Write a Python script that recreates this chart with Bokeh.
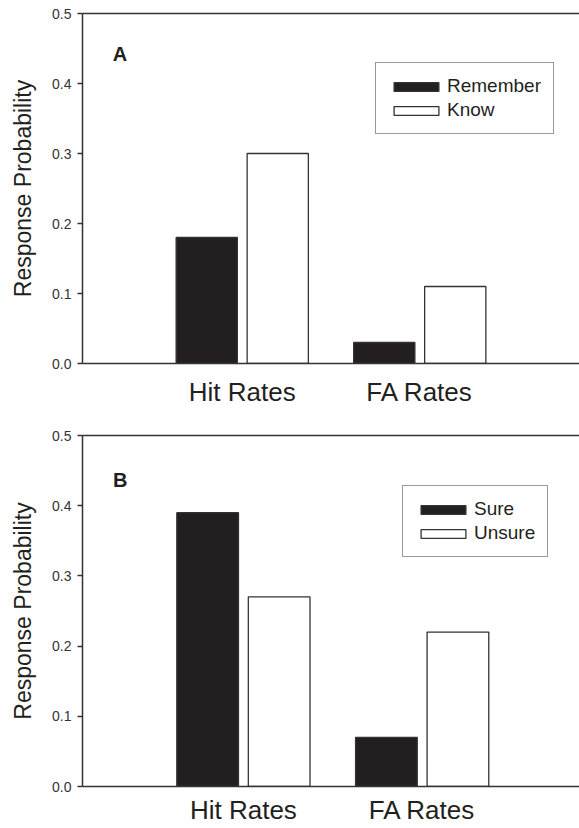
from bokeh.plotting import figure
from bokeh.models import (Legend, LegendItem, LinearAxis, FixedTicker, Label,
                          Range1d, PrintfTickFormatter)
from bokeh.layouts import column
from bokeh.embed import file_html
from bokeh.resources import INLINE

# ---- data ----
categories = ["Hit Rates", "FA Rates"]
cat_pos = [1, 2]
remember = [0.18, 0.03]
know = [0.30, 0.11]
sure = [0.39, 0.07]
unsure = [0.27, 0.22]
y_ticks = [0.0, 0.1, 0.2, 0.3, 0.4, 0.5]

FONT = "Liberation Sans"
BLACK = "#231f20"
LINE = "#333333"
TXT = "#231f20"


def make_panel(letter, filled, hollow, names, left, xend, height, top, bottom,
               legend_loc, letter_xy, xstand):
    p = figure(width=579, height=height, x_range=Range1d(0.1, xend),
               y_range=Range1d(0, 0.5), output_backend="svg",
               toolbar_location=None, min_border_left=left,
               min_border_right=0, min_border_top=top,
               min_border_bottom=bottom)
    p.outline_line_color = None
    p.xgrid.visible = False
    p.ygrid.visible = False
    p.background_fill_color = "white"
    p.border_fill_color = "white"

    off = 0.2
    r1 = p.vbar(x=[c - off for c in cat_pos], top=filled, width=0.345,
                fill_color=BLACK, line_color=LINE, line_width=1.3)
    r2 = p.vbar(x=[c + off for c in cat_pos], top=hollow, width=0.345,
                fill_color="white", line_color=LINE, line_width=1.3)

    # x axis
    xa = p.xaxis[0]
    xa.ticker = FixedTicker(ticks=cat_pos)
    xa.major_label_overrides = {c: n for c, n in zip(cat_pos, categories)}
    xa.major_tick_line_color = None
    xa.minor_tick_line_color = None
    xa.major_tick_out = 0
    xa.major_tick_in = 0
    xa.major_label_text_font = FONT
    xa.major_label_text_font_size = "26px"
    xa.major_label_text_color = TXT
    xa.major_label_standoff = xstand
    xa.axis_line_color = LINE
    xa.axis_line_width = 1.5

    # y axis
    ya = p.yaxis[0]
    ya.ticker = FixedTicker(ticks=y_ticks)
    ya.formatter = PrintfTickFormatter(format="%.1f")
    ya.minor_tick_line_color = None
    ya.major_tick_in = 0
    ya.major_tick_out = 5
    ya.major_tick_line_color = LINE
    ya.major_tick_line_width = 1.3
    ya.major_label_text_font = FONT
    ya.major_label_text_font_size = "14px"
    ya.major_label_text_color = "#333333"
    ya.major_label_standoff = 6
    ya.axis_line_color = LINE
    ya.axis_line_width = 1.5
    ya.axis_label = "Response Probability"
    ya.axis_label_text_font = FONT
    ya.axis_label_text_font_size = "23px"
    ya.axis_label_text_font_style = "normal"
    ya.axis_label_text_color = TXT
    ya.axis_label_standoff = 13

    # top frame line
    ta = LinearAxis(ticker=FixedTicker(ticks=[]), axis_line_color=LINE,
                    axis_line_width=1.5, major_tick_line_color=None,
                    minor_tick_line_color=None,
                    major_label_text_font_size="0px")
    p.add_layout(ta, "above")

    p.add_layout(Label(x=letter_xy[0], y=letter_xy[1], text=letter,
                       text_font=FONT, text_font_size="20px",
                       text_font_style="bold", text_color=TXT))

    leg = Legend(items=[LegendItem(label=names[0], renderers=[r1]),
                        LegendItem(label=names[1], renderers=[r2])],
                 location=legend_loc, orientation="vertical",
                 glyph_width=56, glyph_height=11, label_standoff=3,
                 padding=12, spacing=2, margin=0,
                 label_text_font=FONT, label_text_font_size="19px",
                 label_text_color=TXT, label_height=22,
                 border_line_color=LINE, border_line_width=1.3,
                 background_fill_color="white", background_fill_alpha=1.0)
    p.add_layout(leg)
    return p


pa = make_panel("A", remember, know, ["Remember", "Know"], 79, 2.9, 420, 13, 57,
                (293, 229), (0.27, 0.427), 13)
pb = make_panel("B", sure, unsure, ["Sure", "Unsure"], 82, 2.88, 408, 15, 42,
                (320, 229), (0.27, 0.421), 8)

layout = column(pa, pb, spacing=0)
open("out.html", "w").write(file_html(layout, INLINE))
